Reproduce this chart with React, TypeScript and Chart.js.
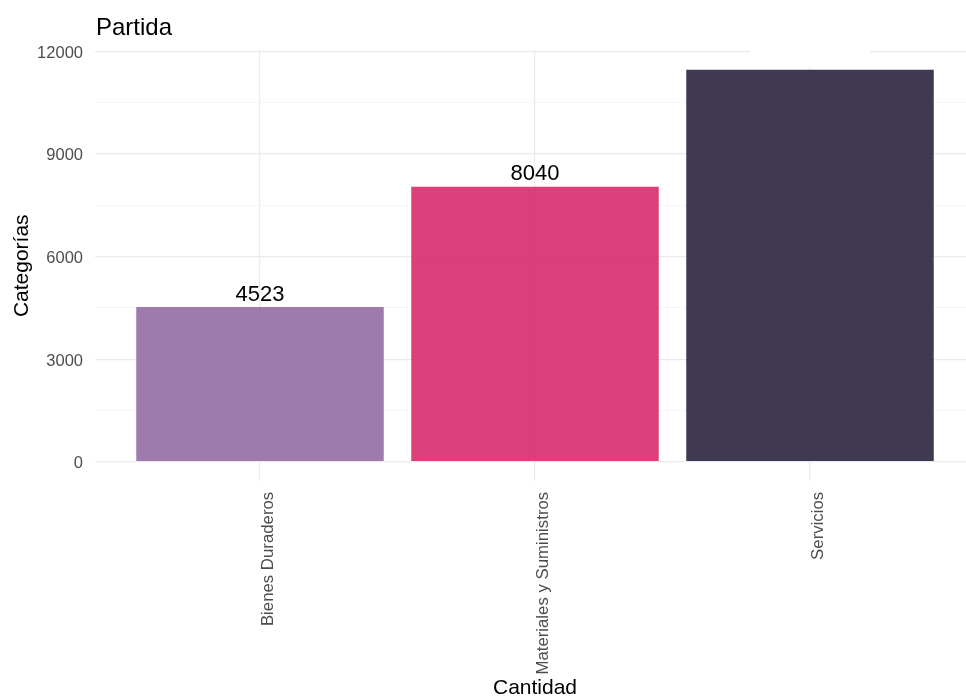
import React, { useEffect, useRef } from "react";
import { Chart, registerables } from "chart.js";

Chart.register(...registerables);

// Partidas presupuestarias y su cantidad
const categories = ["Bienes Duraderos", "Materiales y Suministros", "Servicios"];
const values = [4523, 8040, 11460];
const barColors = [
  "rgba(149, 107, 163, 0.9)",
  "rgba(216, 43, 107, 0.9)",
  "rgba(43, 36, 63, 0.9)",
];
const valueLabelColors = ["#000000", "#000000", "#ffffff"];
const yTicks = [0, 1500, 3000, 4500, 6000, 7500, 9000, 10500, 12000];
const yLabelStep = 3000;

const FONT = "'Liberation Sans', Arial, sans-serif";
const CANVAS_W = 975;
const CANVAS_H = 696;

const textPlugin = {
  id: "textPlugin",
  afterDatasetsDraw(chart: any) {
    const ctx = chart.ctx;
    const meta = chart.getDatasetMeta(0);
    ctx.save();
    meta.data.forEach((bar: any, i: number) => {
      const x = bar.x;
      const y = bar.y;
      if (valueLabelColors[i] === "#ffffff") {
        ctx.fillStyle = "#ffffff";
        ctx.fillRect(x - 60, y - 30, 120, 27);
      }
      ctx.fillStyle = valueLabelColors[i];
      ctx.font = `22px ${FONT}`;
      ctx.textAlign = "center";
      ctx.textBaseline = "alphabetic";
      ctx.fillText(String(values[i]), x, y - 6.5);
    });
    ctx.restore();
  },
  afterDraw(chart: any) {
    const ctx = chart.ctx;
    const area = chart.chartArea;
    ctx.save();
    ctx.fillStyle = "#000000";
    ctx.textBaseline = "alphabetic";

    ctx.font = `24px ${FONT}`;
    ctx.textAlign = "left";
    ctx.fillText("Partida", 96, 35);

    ctx.font = `21px ${FONT}`;
    ctx.textAlign = "center";
    ctx.fillText("Cantidad", (area.left + area.right) / 2, 694);

    ctx.translate(28, (area.top + area.bottom) / 2);
    ctx.rotate(-Math.PI / 2);
    ctx.fillText("Categorías", 0, 0);
    ctx.restore();
  },
};

export default function App() {
  const canvasRef = useRef<HTMLCanvasElement | null>(null);

  useEffect(() => {
    if (!canvasRef.current) return;
    const chart = new Chart(canvasRef.current, {
      type: "bar",
      data: {
        datasets: [
          {
            data: values.map((v, i) => ({ x: i + 1, y: v })),
            backgroundColor: barColors,
            borderWidth: 0,
            categoryPercentage: 1,
            barPercentage: 0.9,
          },
        ],
      },
      plugins: [textPlugin],
      options: {
        animation: false,
        responsive: false,
        devicePixelRatio: 1,
        layout: { padding: { top: 50.2, left: 0, right: 0, bottom: 0 } },
        plugins: {
          legend: { display: false },
          tooltip: { enabled: false },
          title: { display: false },
        },
        scales: {
          x: {
            type: "linear",
            min: 0.4,
            max: 3.6,
            offset: false,
            afterBuildTicks: (scale: any) => {
              scale.ticks = categories.map((_, i) => ({ value: i + 1 }));
            },
            afterFit: (scale: any) => {
              scale.height = 214.7;
            },
            grid: { color: "#ebebeb", lineWidth: 1.2, drawTicks: false, offset: false },
            border: { display: false },
            ticks: {
              autoSkip: false,
              minRotation: 90,
              maxRotation: 90,
              padding: 10.5,
              labelOffset: 8,
              color: "#4d4d4d",
              font: { family: FONT, size: 16.8 },
              callback: (value: any) => categories[Number(value) - 1] ?? "",
            },
          },
          y: {
            type: "linear",
            min: -573,
            max: 12033,
            afterBuildTicks: (scale: any) => {
              scale.ticks = yTicks.map((v) => ({ value: v }));
            },
            afterFit: (scale: any) => {
              scale.width = 95;
            },
            grid: {
              drawTicks: false,
              color: (c: any) =>
                c.tick && c.tick.value % yLabelStep === 0 ? "#ebebeb" : "#f4f4f4",
              lineWidth: (c: any) =>
                c.tick && c.tick.value % yLabelStep === 0 ? 1.2 : 0.8,
            },
            border: { display: false },
            ticks: {
              padding: 12,
              labelOffset: 2,
              color: "#4d4d4d",
              font: { family: FONT, size: 16.5 },
              callback: (value: any) =>
                Number(value) % yLabelStep === 0 ? String(value) : "",
            },
          },
        },
      },
    });
    return () => chart.destroy();
  }, []);

  return (
    <div
      style={{
        position: "fixed",
        left: 0,
        top: 0,
        width: 966,
        height: 696,
        overflow: "hidden",
        background: "#ffffff",
      }}
    >
      <canvas
        ref={canvasRef}
        width={CANVAS_W}
        height={CANVAS_H}
        style={{ display: "block", width: CANVAS_W, height: CANVAS_H }}
      />
    </div>
  );
}
